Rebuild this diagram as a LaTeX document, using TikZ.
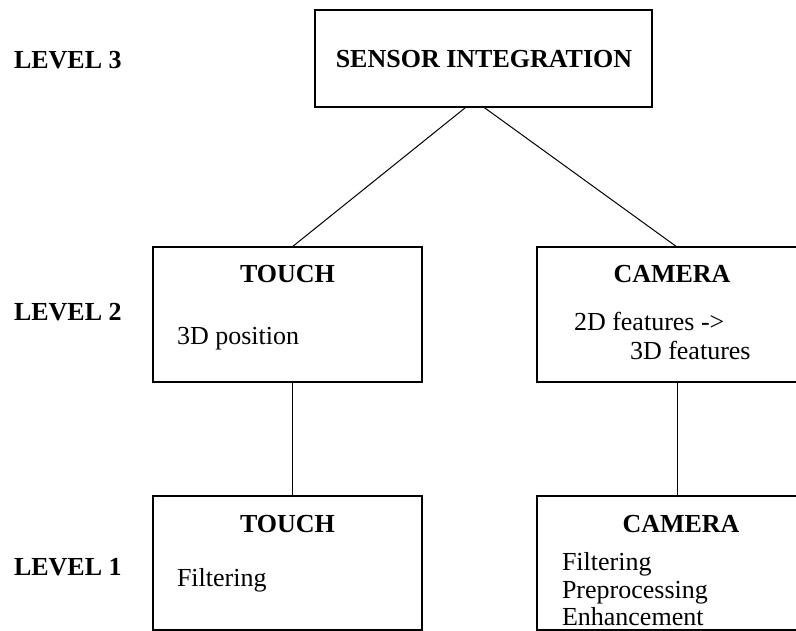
\documentclass[tikz,border=0pt]{standalone}
\usepackage{fontspec}
\setmainfont{Liberation Serif}
\begin{document}
\begin{tikzpicture}
  [x=0.75pt,y=-0.75pt,every node/.style={inner sep=0pt,outer sep=0pt,font=\fontsize{19.5}{20.6}\selectfont},
   box/.style={draw,line width=0.9pt,rectangle},
   title/.style={anchor=base,font=\fontsize{19.5}{20.6}\selectfont\bfseries},
   level/.style={anchor=base west,font=\fontsize{19.5}{20.6}\selectfont\bfseries},
   body/.style={anchor=base west,align=left}]
  \useasboundingbox (0,0) rectangle (796,631);

  % boxes
  \node[box,minimum width=252.75pt,minimum height=72.75pt] (sensor) at (483.5,58.5) {};
  \node[box,minimum width=201.75pt,minimum height=101.25pt] (touch2) at (287.5,314.5) {};
  \node[box,minimum width=210pt,minimum height=101.25pt] (camera2) at (677,314.5) {};
  \node[box,minimum width=201.75pt,minimum height=100.5pt] (touch1) at (287.5,563) {};
  \node[box,minimum width=210pt,minimum height=100.5pt] (camera1) at (677,563) {};

  % levels
  \node[level] (lvl3) at (14,69) {LEVEL 3};
  \node[level] (lvl2) at (14,320) {LEVEL 2};
  \node[level] (lvl1) at (14,575) {LEVEL 1};

  % texts
  \node[title] (sensortitle) at (484,68) {SENSOR INTEGRATION};
  \node[title] (touch2title) at (287.5,282) {TOUCH};
  \node[body] (touch2text) at (177,344) {3D position};
  \node[title] (camera2title) at (672,282) {CAMERA};
  \node[body] (camera2a) at (574,330.7) {2D features ->};
  \node[body] (camera2b) at (630,359) {3D features};
  \node[title] (touch1title) at (287.5,532) {TOUCH};
  \node[body] (touch1text) at (177,586) {Filtering};
  \node[title] (camera1title) at (681,532) {CAMERA};
  \node[body] (camera1text) at (562,625.7) {Filtering\\Preprocessing\\Enhancement};

  \foreach \from/\to/\a/\b in {sensor/touch2/-13pt/3.4pt,sensor/camera2/0pt/0pt,
                               touch2/touch1/3.4pt/3.4pt,camera2/camera1/0pt/0pt}
    \draw[line width=0.75pt] ([xshift=\a]\from.south) -- ([xshift=\b]\to.north);
\end{tikzpicture}
\end{document}
